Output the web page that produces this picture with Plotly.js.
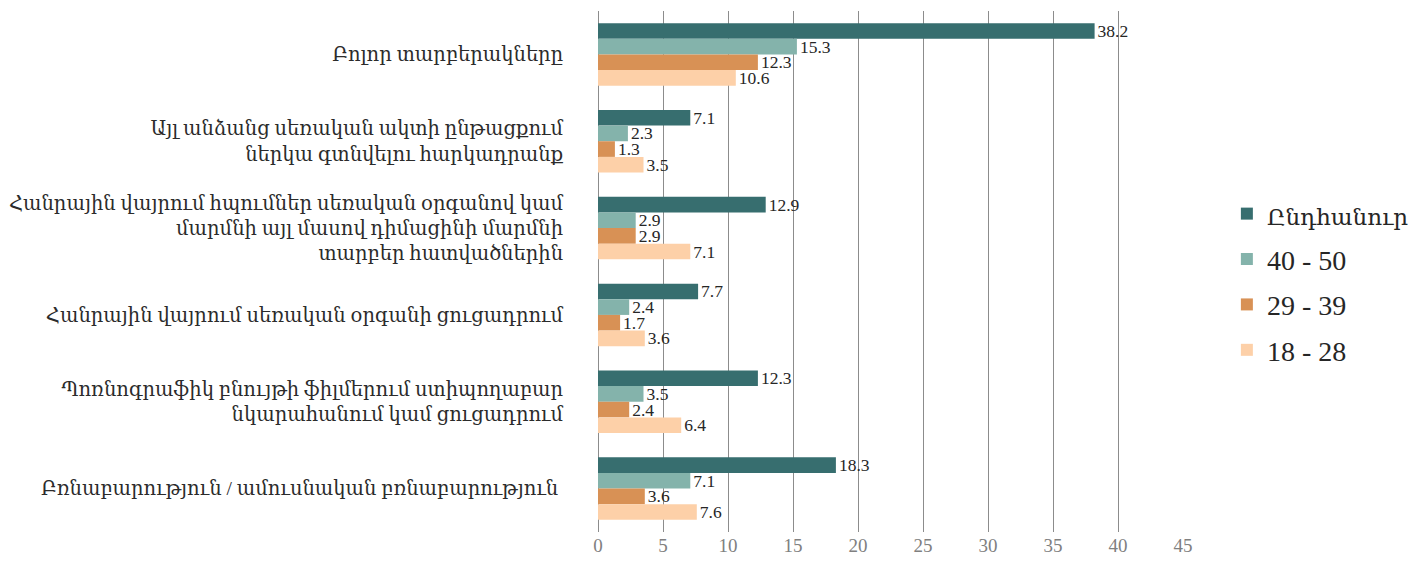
<!DOCTYPE html>
<html><head><meta charset="utf-8">
<script src="https://cdn.plot.ly/plotly-3.0.1.min.js"></script>
<style>html,body{margin:0;padding:0;background:#fff}#chart{width:1428px;height:563px}</style>
</head><body><div id="chart"></div>
<script>
const categories = [
  "Բոլոր տարբերակները",
  "Այլ անձանց սեռական ակտի ընթացքում<br>ներկա գտնվելու հարկադրանք",
  "Հանրային վայրում հպումներ սեռական օրգանով կամ<br>մարմնի այլ մասով դիմացինի մարմնի<br>տարբեր հատվածներին",
  "Հանրային վայրում սեռական օրգանի ցուցադրում",
  "Պոռնոգրաֆիկ բնույթի ֆիլմերում ստիպողաբար<br>նկարահանում կամ ցուցադրում",
  "Բռնաբարություն / ամուսնական բռնաբարություն "
];
const seriesNames = ["Ընդհանուր", "40 - 50", "29 - 39", "18 - 28"];
const total   = [38.2, 7.1, 12.9, 7.7, 12.3, 18.3];
const age4050 = [15.3, 2.3, 2.9, 2.4, 3.5, 7.1];
const age2939 = [12.3, 1.3, 2.9, 1.7, 2.4, 3.6];
const age1828 = [10.6, 3.5, 7.1, 3.6, 6.4, 7.6];
const xTicks = [0, 5, 10, 15, 20, 25, 30, 35, 40, 45];

const colors = ["#376E6F", "#84B3AB", "#D89155", "#FDD0A8"];
const values = [total, age4050, age2939, age1828];
const FONT = "'Liberation Serif', 'DejaVu Serif', serif";
const isArmenian = s => /[\u0530-\u058F]/.test(s);

const data = values.map((v, i) => ({
  type: 'bar', orientation: 'h',
  name: isArmenian(seriesNames[i]) ? '<span style="font-size:23px">' + seriesNames[i] + '</span>' : seriesNames[i],
  legendgroup: 'g' + i,
  x: v, y: categories,
  marker: {color: colors[i]},
  text: v.map(n => n.toFixed(1)), textposition: 'outside',
  constraintext: 'none',
  textfont: {family: FONT, size: 17.5, color: '#262626'},
  cliponaxis: false, hoverinfo: 'x+name'
}));

const layout = {
  width: 1428, height: 563,
  margin: {l: 598, r: 245, t: 11, b: 31},
  paper_bgcolor: '#fff', plot_bgcolor: '#fff',
  barmode: 'group', bargap: 0.28, bargroupgap: 0,
  font: {family: FONT},
  xaxis: {
    range: [0, 45], tickvals: xTicks, ticktext: xTicks.map(String),
    showgrid: true, gridcolor: '#8c8c8c', gridwidth: 1,
    zeroline: true, zerolinecolor: '#8c8c8c', zerolinewidth: 1,
    showline: false, ticks: '', ticklen: 0,
    tickfont: {family: FONT, size: 19, color: '#808080'}
  },
  yaxis: {
    autorange: 'reversed', showgrid: false, zeroline: false, showline: false,
    ticks: 'outside', ticklen: 30, tickcolor: 'rgba(0,0,0,0)',
    tickfont: {family: FONT, size: 19.5, color: '#2b2b2b'}
  },
  legend: {
    x: 1.075, xanchor: 'left', y: 0.48, yanchor: 'middle',
    font: {family: FONT, size: 28, color: '#262626'},
    traceorder: 'grouped', tracegroupgap: 6, itemwidth: 30
  },
  showlegend: true
};

Plotly.newPlot('chart', data, layout, {displayModeBar: false, staticPlot: true});
</script></body></html>
